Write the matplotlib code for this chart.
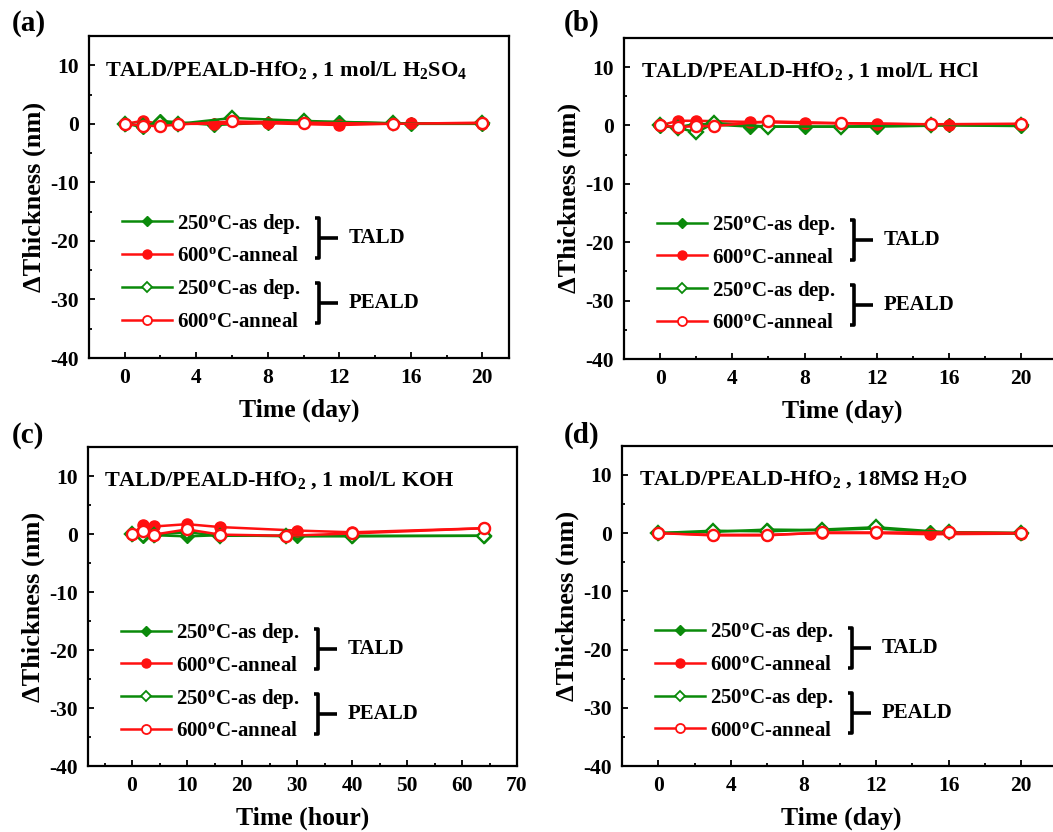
import matplotlib
matplotlib.use("Agg")
import matplotlib.pyplot as plt
from matplotlib.lines import Line2D
from matplotlib.ticker import MultipleLocator

plt.rcParams['font.family'] = ['Liberation Serif', 'DejaVu Serif']
plt.rcParams['font.weight'] = 'bold'
plt.rcParams['axes.unicode_minus'] = False
plt.rcParams['mathtext.fontset'] = 'custom'
plt.rcParams['mathtext.rm'] = 'Liberation Serif:bold'
plt.rcParams['mathtext.it'] = 'Liberation Serif:bold'
plt.rcParams['mathtext.bf'] = 'Liberation Serif:bold'

GREEN = '#0a8a0a'
RED = '#ff1010'

# (a) 1 mol/L H2SO4, days
a_tald_t = [0, 1, 2, 5, 8, 12, 16, 20]
a_tald_250 = [0, -0.5, 0.5, -0.2, 0.2, 0.3, 0.0, 0.0]
a_tald_600 = [0, 0.5, 0.0, 0.0, 0.1, -0.2, 0.1, 0.0]
a_peald_t = [0, 1, 2, 3, 6, 10, 15, 20]
a_peald_250 = [0, -0.3, 0.2, 0.0, 1.0, 0.5, 0.1, 0.1]
a_peald_600 = [0, -0.3, -0.4, -0.1, 0.4, 0.2, 0.0, 0.2]

# (b) 1 mol/L HCl, days
b_tald_t = [0, 1, 2, 5, 8, 12, 16, 20]
b_tald_250 = [-0.1, -0.3, 0.3, -0.2, -0.2, -0.2, 0.0, -0.1]
b_tald_600 = [0, 0.8, 0.8, 0.6, 0.4, 0.3, 0.1, 0.2]
b_peald_t = [0, 1, 2, 3, 6, 10, 15, 20]
b_peald_250 = [0, -0.4, -1.2, 0.4, -0.2, -0.2, 0.1, 0.0]
b_peald_600 = [0, -0.3, -0.1, -0.1, 0.7, 0.4, 0.2, 0.3]

# (c) 1 mol/L KOH, hours
c_tald_t = [0, 2, 4, 10, 16, 30, 40, 64]
c_tald_250 = [0, -0.3, -0.2, -0.4, -0.2, -0.4, -0.3, -0.3]
c_tald_600 = [0, 1.5, 1.3, 1.7, 1.2, 0.6, 0.3, 1.0]
c_peald_t = [0, 2, 4, 10, 16, 28, 40, 64]
c_peald_250 = [0, -0.2, -0.1, 0.3, -0.3, -0.3, -0.4, -0.3]
c_peald_600 = [0, 0.6, -0.1, 0.8, -0.1, -0.3, 0.1, 1.0]

# (d) 18 MOhm H2O, days
d_tald_t = [0, 3, 6, 9, 12, 15, 20]
d_tald_250 = [0, 0.2, 0.6, 0.5, 0.8, 0.2, 0.0]
d_tald_600 = [0, -0.3, -0.3, 0.0, 0.0, -0.2, -0.1]
d_peald_t = [0, 3, 6, 9, 12, 16, 20]
d_peald_250 = [0, 0.4, 0.3, 0.6, 1.0, 0.1, 0.0]
d_peald_600 = [0, -0.4, -0.4, 0.1, 0.1, 0.1, 0.0]

series_labels = ['250$^\\mathregular{o}$C-as dep.', '600$^\\mathregular{o}$C-anneal',
                 '250$^\\mathregular{o}$C-as dep.', '600$^\\mathregular{o}$C-anneal']

FIG_W, FIG_H = 1053, 832
fig = plt.figure(figsize=(FIG_W / 100, FIG_H / 100), dpi=100)

panels = [
    dict(tag='(a)', rect=[0.0845, 0.5697, 0.399, 0.387], xlim=(-2, 21.5), xmaj=4, xmin=2,
         xlabel='Time (day)', solution='1 mol/L H$_2$SO$_4$',
         data=(a_tald_t, a_tald_250, a_tald_600, a_peald_t, a_peald_250, a_peald_600),
         tagpos=(0.027, 0.972)),
    dict(tag='(b)', rect=[0.5926, 0.5685, 0.415, 0.386], xlim=(-2, 22.2), xmaj=4, xmin=2,
         xlabel='Time (day)', solution='1 mol/L HCl',
         data=(b_tald_t, b_tald_250, b_tald_600, b_peald_t, b_peald_250, b_peald_600),
         tagpos=(0.552, 0.972)),
    dict(tag='(c)', rect=[0.0836, 0.0793, 0.4074, 0.3834], xlim=(-8, 70), xmaj=10, xmin=5,
         xlabel='Time (hour)', solution='1 mol/L KOH',
         data=(c_tald_t, c_tald_250, c_tald_600, c_peald_t, c_peald_250, c_peald_600),
         tagpos=(0.027, 0.477)),
    dict(tag='(d)', rect=[0.5907, 0.0793, 0.417, 0.385], xlim=(-2, 22.2), xmaj=4, xmin=2,
         xlabel='Time (day)', solution='18M\u03a9 H$_2$O',
         data=(d_tald_t, d_tald_250, d_tald_600, d_peald_t, d_peald_250, d_peald_600),
         tagpos=(0.552, 0.477)),
]


def draw_bracket(ax, rect, top_px, bot_px, text):
    # bracket drawn at a fixed pixel offset from the axes' left/top edges
    w = rect[2] * FIG_W
    h = rect[3] * FIG_H
    xb = 230 / w
    hook = 4 / w
    arm = 19 / w
    y0 = 1 - top_px / h
    y1 = 1 - bot_px / h
    ym = (y0 + y1) / 2
    kw = dict(transform=ax.transAxes, color='black', lw=2.6, solid_capstyle='butt',
              clip_on=False)
    ax.add_line(Line2D([xb - hook, xb, xb, xb - hook], [y0, y0, y1, y1], **kw))
    ax.add_line(Line2D([xb, xb + arm], [ym, ym], **kw))
    ax.text(xb + 30 / w, ym, text, transform=ax.transAxes, fontsize=15,
            fontweight='bold', va='center', ha='left')


for p in panels:
    ax = fig.add_axes(p['rect'])
    tt, t250, t600, pt, p250, p600 = p['data']
    ax.plot(tt, t250, '-D', color=GREEN, mfc=GREEN, mec=GREEN, ms=7, lw=1.8)
    ax.plot(tt, t600, '-o', color=RED, mfc=RED, mec=RED, ms=8, lw=1.8)
    ax.plot(pt, p250, '-D', color=GREEN, mfc='white', mec=GREEN, ms=7, mew=1.7, lw=1.8)
    ax.plot(pt, p600, '-o', color=RED, mfc='white', mec=RED, ms=8, mew=1.7, lw=1.8)

    ax.set_xlim(*p['xlim'])
    ax.set_ylim(-40, 15)
    ax.xaxis.set_major_locator(MultipleLocator(p['xmaj']))
    ax.xaxis.set_minor_locator(MultipleLocator(p['xmin']))
    ax.yaxis.set_major_locator(MultipleLocator(10))
    ax.yaxis.set_minor_locator(MultipleLocator(5))
    ax.set_xticks([t for t in ax.get_xticks() if 0 <= t <= p['xlim'][1]])
    ax.set_yticks([-40, -30, -20, -10, 0, 10])
    ax.tick_params(which='both', direction='in', top=False, right=False, width=1.3)
    ax.tick_params(which='major', length=4, labelsize=15.5, pad=7)
    ax.tick_params(which='minor', length=2.5)
    for s in ax.spines.values():
        s.set_linewidth(1.6)

    ax.set_xlabel(p['xlabel'], fontsize=18.5, fontweight='bold', labelpad=8)
    ax.set_ylabel('\u0394Thickness (nm)', fontsize=19, fontweight='bold', labelpad=3)

    ax.text(0.038, 0.895, 'TALD/PEALD-HfO$_2$ , ' + p['solution'], transform=ax.transAxes,
            fontsize=16, fontweight='bold', va='center', ha='left')

    handles = [
        Line2D([], [], color=GREEN, marker='D', mfc=GREEN, mec=GREEN, ms=5.5, lw=1.8),
        Line2D([], [], color=RED, marker='o', mfc=RED, mec=RED, ms=6.5, lw=1.8),
        Line2D([], [], color=GREEN, marker='D', mfc='white', mec=GREEN, ms=5.5, mew=1.3, lw=1.8),
        Line2D([], [], color=RED, marker='o', mfc='white', mec=RED, ms=6.5, mew=1.3, lw=1.8),
    ]
    w = p['rect'][2] * FIG_W
    ax.legend(handles, series_labels, loc='upper left',
              bbox_to_anchor=(33 / w, 0.455), frameon=False,
              handlelength=2.4, handletextpad=0.25, labelspacing=0.52,
              borderpad=0, borderaxespad=0, prop={'weight': 'bold', 'size': 15})

    draw_bracket(ax, p['rect'], 182, 222, 'TALD')
    draw_bracket(ax, p['rect'], 247, 287, 'PEALD')

    fig.text(p['tagpos'][0], p['tagpos'][1], p['tag'], fontsize=21, fontweight='bold',
             ha='center', va='center')

fig.savefig('out.png', dpi=100)
